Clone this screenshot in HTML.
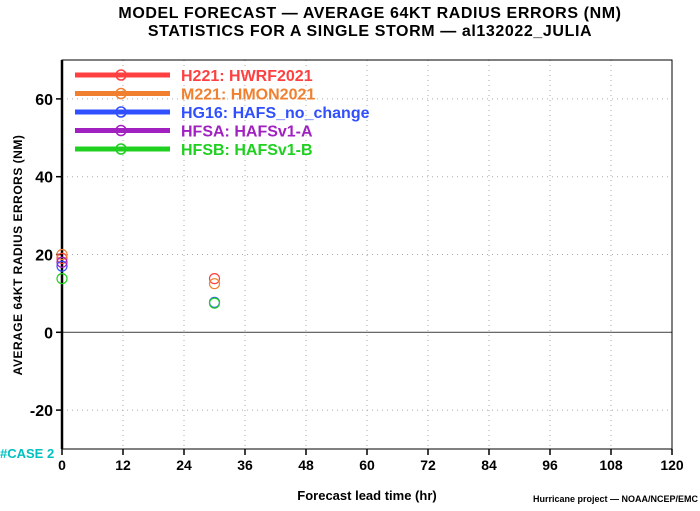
<!DOCTYPE html>
<html><head><meta charset="utf-8"><style>
body{margin:0;background:#fff;}
svg text{font-family:"Liberation Sans",sans-serif;font-weight:bold;}
</style></head><body>
<svg width="700" height="506" viewBox="0 0 700 506">
<text x="370" y="18" text-anchor="middle" font-size="16" letter-spacing="0.6" fill="#000">MODEL FORECAST — AVERAGE 64KT RADIUS ERRORS (NM)</text>
<text x="370" y="36" text-anchor="middle" font-size="16" letter-spacing="0.6" fill="#000">STATISTICS FOR A SINGLE STORM — al132022_JULIA</text>
<g id="grid"></g>
<g id="axes"></g>
<g id="legend"></g>
<g id="marks"></g>
<text transform="translate(22,255) rotate(-90)" text-anchor="middle" font-size="12" letter-spacing="0.5">AVERAGE 64KT RADIUS ERRORS (NM)</text>
<text x="367" y="500" text-anchor="middle" font-size="13">Forecast lead time (hr)</text>
<text x="0" y="458" font-size="13" fill="#00c0c0">#CASE  2</text>
<text x="698" y="502" text-anchor="end" font-size="9">Hurricane project — NOAA/NCEP/EMC</text>
</svg>
<script>
const xTicks=[0,12,24,36,48,60,72,84,96,108,120];
const yTicks=[-20,0,20,40,60];
const leadTimes=[0,30];
const seriesNames=["H221: HWRF2021","M221: HMON2021","HG16: HAFS_no_change","HFSA: HAFSv1-A","HFSB: HAFSv1-B"];
const seriesColors=["#ff4040","#f08030","#3050ff","#a020c0","#20d020"];
const h221=[19,13.8];
const m221=[20,12.5];
const hg16=[17,7.7];
const hfsa=[18,null];
const hfsb=[13.8,7.5];
const seriesValues=[h221,m221,hg16,hfsa,hfsb];
const NS="http://www.w3.org/2000/svg";
const X0=62,X1=672,Y0=449,Y1=60,ymin=-30,ymax=70;
const xs=v=>X0+(v/120)*(X1-X0);
const ys=v=>Y0-(v-ymin)/(ymax-ymin)*(Y0-Y1);
function mk(tag,attrs,parent){const e=document.createElementNS(NS,tag);for(const k in attrs)e.setAttribute(k,attrs[k]);parent.appendChild(e);return e;}
const grid=document.getElementById('grid'),axes=document.getElementById('axes'),legend=document.getElementById('legend'),marks=document.getElementById('marks');
xTicks.forEach(t=>{
 if(t>0&&t<120){const l=mk('line',{x1:xs(t),x2:xs(t),y1:Y1,y2:Y0,stroke:'#aaa','stroke-dasharray':'1,4'},grid);
 
 }
 const tk=mk('line',{x1:xs(t),x2:xs(t),y1:Y0,y2:Y0+6,stroke:'#000','stroke-width':1.5},axes);
 
 
 const tx=mk('text',{x:xs(t),y:Y0+21,'text-anchor':'middle','font-size':14},axes);tx.textContent=t;
 
 
});
yTicks.forEach(t=>{
 const l=mk('line',{x1:X0,x2:X1,y1:ys(t),y2:ys(t),stroke:t===0?'#555':'#aaa','stroke-dasharray':t===0?'none':'1,4','stroke-width':t===0?1.2:1},grid);
 
 
 const tk=mk('line',{x1:X0-6,x2:X0,y1:ys(t),y2:ys(t),stroke:'#000','stroke-width':1.5},axes);
 
 
 const tx=mk('text',{x:X0-9,y:ys(t)+6,'text-anchor':'end','font-size':16},axes);tx.textContent=t;
 
 
});
const box=mk('rect',{x:X0,y:Y1,width:X1-X0,height:Y0-Y1,fill:'none',stroke:'#000','stroke-width':1},axes);


const yax=mk('line',{x1:X0,x2:X0,y1:Y1,y2:Y0,stroke:'#000','stroke-width':2.5},axes);


seriesNames.forEach((n,i)=>{
 const y=75+i*18.5;
 const g=mk('g',{},legend);
 
 
 mk('line',{x1:75,x2:170,y1:y,y2:y,stroke:seriesColors[i],'stroke-width':5},g);
 mk('circle',{cx:121,cy:y,r:5,fill:'none',stroke:seriesColors[i],'stroke-width':1.5},g);
 const t=mk('text',{x:181,y:y+6,'font-size':16,fill:seriesColors[i]},g);t.textContent=n;
});
seriesValues.forEach((arr,i)=>{
 arr.forEach((v,j)=>{
  if(v===null)return;
  const c=mk('circle',{cx:xs(leadTimes[j]),cy:ys(v),r:5,fill:'none',stroke:seriesColors[i],'stroke-width':1.2},marks);
  
  
 });
});
</script>
</body></html>
